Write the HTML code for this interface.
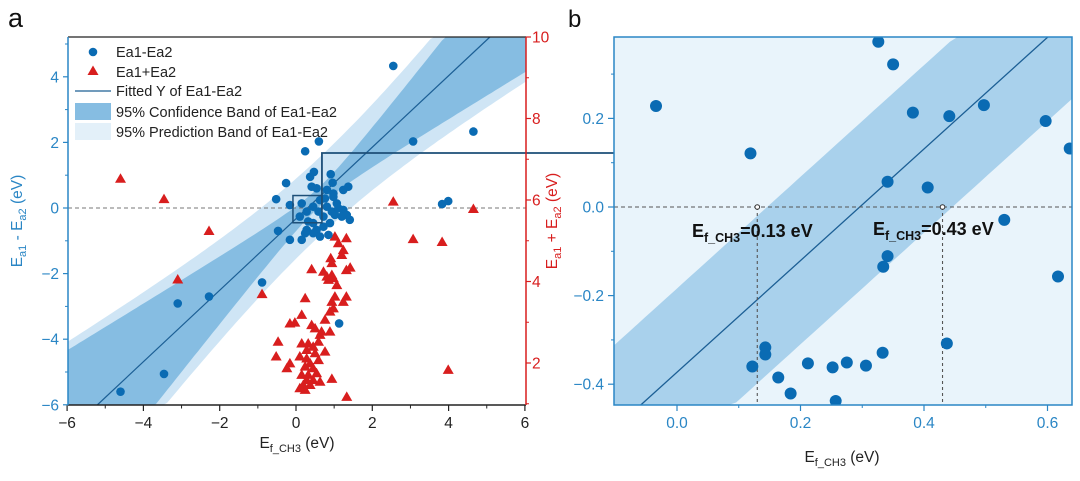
<!DOCTYPE html>
<html><head><meta charset="utf-8"><style>
html,body{margin:0;padding:0;background:#fff;width:1080px;height:481px;overflow:hidden;position:relative;}
svg{display:block;position:absolute;left:0;top:0;font-family:"Liberation Sans",Arial,sans-serif;}
</style></head><body>
<svg id="chart" width="1080" height="481" viewBox="0 0 1080 481" xmlns="http://www.w3.org/2000/svg">
<g id="pa"></g>
<g id="pb"></g>
</svg>
<script>
// ---- Panel a data ----
const diffX = [2.55,4.65,3.07,0.6,0.24,3.83,3.99,-0.26,-0.52,-0.47,-0.16,-0.89,-2.28,-3.1,-3.46,-4.6,1.13,
 0.37,0.47,0.91,0.96,0.41,0.54,0.15,0.28,0.45,0.63,0.81,0.98,1.24,1.37,1.07,1.24,1.41,1.2,0.94,0.72,0.45,0.28,0.15,0.24,0.54,0.72,0.85,0.89,1.02,-0.16,0.1,0.32,0.59,0.81,0.63,0.45,0.98,1.11,1.33,0.76];
const diffY = [4.33,2.33,2.03,2.03,1.73,0.12,0.21,0.76,0.27,-0.7,-0.97,-2.27,-2.7,-2.91,-5.06,-5.6,-3.52,
 0.95,1.1,1.03,0.77,0.65,0.6,0.14,-0.11,0.04,0.24,0.55,0.44,0.55,0.65,0.14,-0.06,-0.36,-0.26,-0.11,-0.26,-0.46,-0.67,-0.97,-0.77,-0.67,-0.57,-0.82,-0.46,-0.21,0.09,-0.26,-0.41,-0.11,0.04,-0.87,-0.77,0.34,-0.01,-0.21,0.29];
const sumX = [-4.6,-3.46,-2.28,-3.1,-0.89,2.55,4.65,3.07,3.83,3.99,1.33,0.94,
 1.02,1.32,1.11,1.24,1.2,0.91,0.94,0.41,0.72,1.32,1.42,0.81,0.94,0.98,0.85,1.07,0.24,1.32,1.02,0.94,1.24,0.98,0.89,0.15,0.76,-0.16,-0.03,0.41,0.5,0.89,0.63,0.67,-0.47,0.15,0.32,0.59,0.45,0.28,0.76,0.5,-0.52,0.1,0.28,0.59,-0.16,-0.24,0.37,0.24,0.45,0.15,0.32,0.54,0.28,0.45,0.63,0.19,0.37,0.24,0.1];
const sumY = [6.52,6.02,5.24,4.05,3.69,5.96,5.78,5.04,4.97,1.83,1.17,1.61,
 5.1,5.06,4.94,4.77,4.65,4.57,4.45,4.3,4.24,4.28,4.34,4.12,4.16,4.08,4.04,3.91,3.59,3.63,3.63,3.5,3.5,3.34,3.26,3.18,3.06,2.97,2.99,2.93,2.85,2.77,2.69,2.77,2.52,2.48,2.48,2.52,2.4,2.32,2.28,2.24,2.16,2.16,2.11,2.07,1.99,1.87,1.99,1.91,1.87,1.71,1.71,1.75,1.58,1.58,1.54,1.46,1.46,1.34,1.38];
const fitA = [1.09, 0.3];
const confA = [0.3, 0.38, 0.6];
const predA = [1.2, 0.38, 0.6];
const xTicksA = [-6,-4,-2,0,2,4,6];
const yTicksA = [-6,-4,-2,0,2,4];
const yTicksR = [2,4,6,8,10];
// ---- Panel b data ----
const bX = [-0.034,0.119,0.326,0.35,0.382,0.441,0.497,0.597,0.636,0.341,0.406,0.53,0.341,0.334,0.617,0.437,0.333,0.143,0.143,0.122,0.164,0.184,0.212,0.252,0.275,0.306,0.257];
const bY = [0.228,0.121,0.373,0.322,0.213,0.205,0.23,0.194,0.132,0.057,0.044,-0.029,-0.111,-0.135,-0.157,-0.308,-0.329,-0.317,-0.333,-0.36,-0.385,-0.421,-0.353,-0.362,-0.351,-0.358,-0.438];
const fitB = [1.26, 0.296];
const bandB = [0.15];
const markB = [0.13, 0.43];
const xTicksB = [0.0,0.2,0.4,0.6];
const yTicksB = [-0.4,-0.2,0.0,0.2];

const NS="http://www.w3.org/2000/svg";
function mk(parent,tag,attrs,text){const e=document.createElementNS(NS,tag);for(const k in attrs)e.setAttribute(k,attrs[k]);if(text!==undefined)e.textContent=text;parent.appendChild(e);return e;}
const BLUE="#2a86c5", DOT="#0a6bb3", LINE="#1c5f95", RED="#d81e1e";
const clamp=(v,a,b)=>Math.max(a,Math.min(b,v));
// clip segment of line y=m(x-x0) to a pixel box, given scale fns
function clipLine(m,x0,xmin,xmax,ymin,ymax){
  let xs=Math.max(xmin, Math.min(x0+ymin/m, x0+ymax/m));
  let xe=Math.min(xmax, Math.max(x0+ymin/m, x0+ymax/m));
  return [xs,m*(xs-x0),xe,m*(xe-x0)];
}

const pa=document.getElementById('pa');
const L=68,R=526,T=37,B=405;
const xa=v=>296+(v)*38.15;
const ya=v=>208-v*32.8;
const yr=v=>37+(10-v)*40.75;
const ga=mk(pa,'g',{});
const AX0=(L-296)/38.15, AX1=(R-296)/38.15, AY0=(208-B)/32.8, AY1=(208-T)/32.8;
function band(par,ab,fill,name){
  let up=[],lo=[];
  for(let i=0;i<=120;i++){const x=AX0+(AX1-AX0)*i/120;const c=fitA[0]*(x-fitA[1]);const h=Math.sqrt(ab[0]*ab[0]+ab[1]*ab[1]*(x-ab[2])*(x-ab[2]));
    up.push(xa(x).toFixed(1)+','+clamp(ya(c+h),T,B).toFixed(1));lo.unshift(xa(x).toFixed(1)+','+clamp(ya(c-h),T,B).toFixed(1));}
  const p=mk(par,'polygon',{points:up.concat(lo).join(' '),fill:fill});
  
}
band(ga,predA,'#cfe5f5','prediction-band');
band(ga,confA,'#86bde2','confidence-band');
{const s=clipLine(fitA[0],fitA[1],AX0,AX1,AY0,AY1);
let fl=mk(ga,'line',{x1:xa(s[0]),y1:ya(s[1]),x2:xa(s[2]),y2:ya(s[3]),stroke:LINE,'stroke-width':1.2});
}
mk(ga,'line',{x1:L,y1:ya(0),x2:R,y2:ya(0),stroke:'#777','stroke-width':1,'stroke-dasharray':'4,3',});
sumX.forEach((x,i)=>{const cx=xa(x),cy=yr(sumY[i]);const t=mk(ga,'polygon',{points:`${cx},${cy-5.5} ${cx-5.5},${cy+4} ${cx+5.5},${cy+4}`,fill:RED});
 });
diffX.forEach((x,i)=>{const c=mk(ga,'circle',{cx:xa(x),cy:ya(diffY[i]),r:4.3,fill:DOT});
 });
mk(pa,'rect',{x:xa(-0.08),y:ya(0.38),width:xa(0.68)-xa(-0.08),height:ya(-0.45)-ya(0.38),fill:'none',stroke:'#1d4f78','stroke-width':1.5,});
mk(pa,'polyline',{points:`${xa(0.68)},${ya(-0.05)} ${xa(0.68)},153 614,153`,fill:'none',stroke:'#1d4f78','stroke-width':1.8,});
mk(pa,'line',{x1:L,y1:T,x2:R,y2:T,stroke:'#222','stroke-width':1.2});
mk(pa,'line',{x1:L,y1:B,x2:R,y2:B,stroke:'#222','stroke-width':1.5});
mk(pa,'line',{x1:L,y1:T,x2:L,y2:B,stroke:BLUE,'stroke-width':1.5});
mk(pa,'line',{x1:R,y1:T,x2:R,y2:B,stroke:RED,'stroke-width':1.5});
xTicksA.forEach(v=>{mk(pa,'line',{x1:xa(v),y1:B,x2:xa(v),y2:B+6,stroke:'#222','stroke-width':1.2});
 if(v<6) mk(pa,'line',{x1:xa(v+1),y1:B,x2:xa(v+1),y2:B+3.5,stroke:'#222'});
 const t=mk(pa,'text',{x:xa(v),y:B+23,'font-size':15.5,'text-anchor':'middle',fill:'#222'},v<0?'\u2212'+(-v):String(v));
 });
yTicksA.forEach(v=>{mk(pa,'line',{x1:L-5,y1:ya(v),x2:L,y2:ya(v),stroke:BLUE,'stroke-width':1.2});
 if(v<5) mk(pa,'line',{x1:L-3,y1:ya(v+1),x2:L,y2:ya(v+1),stroke:BLUE});
 const t=mk(pa,'text',{x:L-9,y:ya(v)+5.5,'font-size':15.5,'text-anchor':'end',fill:BLUE},v<0?'\u2212'+(-v):String(v));
 });
yTicksR.forEach(v=>{mk(pa,'line',{x1:R,y1:yr(v),x2:R+5,y2:yr(v),stroke:RED,'stroke-width':1.2});
 mk(pa,'line',{x1:R,y1:yr(v-1),x2:R+3,y2:yr(v-1),stroke:RED});
 const t=mk(pa,'text',{x:R+6,y:yr(v)+5.5,'font-size':15.5,fill:RED},String(v));
 });
const lg=mk(pa,'g',{'font-size':14.5,fill:'#222'});
mk(lg,'circle',{cx:93,cy:52,r:4.3,fill:DOT});mk(lg,'text',{x:116,y:57},'Ea1-Ea2');
mk(lg,'polygon',{points:'93,65.5 87.5,75 98.5,75',fill:RED});mk(lg,'text',{x:116,y:77},'Ea1+Ea2');
mk(lg,'line',{x1:75,y1:91,x2:111,y2:91,stroke:LINE,'stroke-width':1.3});mk(lg,'text',{x:116,y:96},'Fitted Y of Ea1-Ea2');
mk(lg,'rect',{x:75,y:103,width:36,height:17,fill:'#86bde2'});mk(lg,'text',{x:116,y:117},'95% Confidence Band of Ea1-Ea2');
mk(lg,'rect',{x:75,y:123,width:36,height:17,fill:'#e3f0f9'});mk(lg,'text',{x:116,y:137},'95% Prediction Band of Ea1-Ea2');
mk(pa,'text',{x:8,y:27,'font-size':27,fill:'#111',},'a');
const xt=mk(pa,'text',{x:297,y:448,'font-size':15.5,'text-anchor':'middle',fill:'#222',});
xt.innerHTML='E<tspan font-size="11" dy="4">f_CH3</tspan><tspan dy="-4"> (eV)</tspan>';
const yt=mk(pa,'text',{transform:'translate(22,221) rotate(-90)','font-size':15.5,'text-anchor':'middle',fill:BLUE,});
yt.innerHTML='E<tspan font-size="11" dy="4">a1</tspan><tspan dy="-4"> - E</tspan><tspan font-size="11" dy="4">a2</tspan><tspan dy="-4"> (eV)</tspan>';
const y2=mk(pa,'text',{transform:'translate(557,221) rotate(-90)','font-size':15.5,'text-anchor':'middle',fill:RED,});
y2.innerHTML='E<tspan font-size="11" dy="4">a1</tspan><tspan dy="-4"> + E</tspan><tspan font-size="11" dy="4">a2</tspan><tspan dy="-4"> (eV)</tspan>';

// ---- Panel b ----
const pb=document.getElementById('pb');
const BL=614,BR=1072,BT=37,BB=405;
const xb=v=>677+v*617.5;
const yb=v=>207-v*443;
const BX0=(BL-677)/617.5, BX1=(BR-677)/617.5, BY0=(207-BB)/443, BY1=(207-BT)/443;
const gb=mk(pb,'g',{});
mk(gb,'rect',{x:BL,y:BT,width:BR-BL,height:BB-BT,fill:'#e9f4fb',});
{const h=bandB[0];const f=x=>fitB[0]*(x-fitB[1]);
 let up=[],lo=[];
 for(let i=0;i<=60;i++){const x=BX0+(BX1-BX0)*i/60;
   up.push(xb(x).toFixed(1)+','+clamp(yb(f(x+h)),BT,BB).toFixed(1));
   lo.unshift(xb(x).toFixed(1)+','+clamp(yb(f(x-h)),BT,BB).toFixed(1));}
 const p=mk(gb,'polygon',{points:up.concat(lo).join(' '),fill:'#a9d1ec'});
 
 const s=clipLine(fitB[0],fitB[1],BX0,BX1,BY0,BY1);
 const l=mk(gb,'line',{x1:xb(s[0]),y1:yb(s[1]),x2:xb(s[2]),y2:yb(s[3]),stroke:LINE,'stroke-width':1.3});
 }
mk(gb,'line',{x1:BL,y1:yb(0),x2:BR,y2:yb(0),stroke:'#555','stroke-dasharray':'4,3','stroke-width':1.1});
markB.forEach(v=>{mk(gb,'line',{x1:xb(v),y1:yb(0),x2:xb(v),y2:BB,stroke:'#555','stroke-dasharray':'3,3','stroke-width':1.1});
 const c=mk(gb,'circle',{cx:xb(v),cy:yb(0),r:2.3,fill:'#fff',stroke:'#333'});
 });
const cpb=mk(mk(document.getElementById('chart'),'defs',{}),'clipPath',{id:'cb'});mk(cpb,'rect',{x:BL,y:BT,width:BR-BL,height:BB-BT});
const gdots=mk(gb,'g',{'clip-path':'url(#cb)'});
bX.forEach((x,i)=>{const c=mk(gdots,'circle',{cx:xb(x),cy:yb(bY[i]),r:6,fill:DOT});
 });
const an1=mk(pb,'text',{x:692,y:237,'font-size':18,'font-weight':'bold',fill:'#111',});
an1.innerHTML='E<tspan font-size="12.5" dy="5">f_CH3</tspan><tspan dy="-5">=0.13 eV</tspan>';
const an2=mk(pb,'text',{x:873,y:235,'font-size':18,'font-weight':'bold',fill:'#111',});
an2.innerHTML='E<tspan font-size="12.5" dy="5">f_CH3</tspan><tspan dy="-5">=0.43 eV</tspan>';
mk(pb,'rect',{x:BL,y:BT,width:BR-BL,height:BB-BT,fill:'none',stroke:BLUE,'stroke-width':1.5,});
xTicksB.forEach(v=>{mk(pb,'line',{x1:xb(v),y1:BB,x2:xb(v),y2:BB+6,stroke:BLUE,'stroke-width':1.2});
 mk(pb,'line',{x1:xb(v+0.1),y1:BB,x2:xb(v+0.1),y2:BB+3,stroke:BLUE});
 const t=mk(pb,'text',{x:xb(v),y:428,'font-size':15.5,'text-anchor':'middle',fill:BLUE},v.toFixed(1));
 });
yTicksB.forEach(v=>{mk(pb,'line',{x1:BL-6,y1:yb(v),x2:BL,y2:yb(v),stroke:BLUE,'stroke-width':1.2});
 mk(pb,'line',{x1:BL-3,y1:yb(v+0.1),x2:BL,y2:yb(v+0.1),stroke:BLUE});
 const t=mk(pb,'text',{x:604,y:yb(v)+5.5,'font-size':15.5,'text-anchor':'end',fill:BLUE},v<0?'\u2212'+(-v).toFixed(1):v.toFixed(1));
 });
mk(pb,'text',{x:568,y:27,'font-size':24,fill:'#111',},'b');
const xtb=mk(pb,'text',{x:842,y:462,'font-size':15.5,'text-anchor':'middle',fill:'#222',});
xtb.innerHTML='E<tspan font-size="11" dy="4">f_CH3</tspan><tspan dy="-4"> (eV)</tspan>';
</script>
</body></html>
